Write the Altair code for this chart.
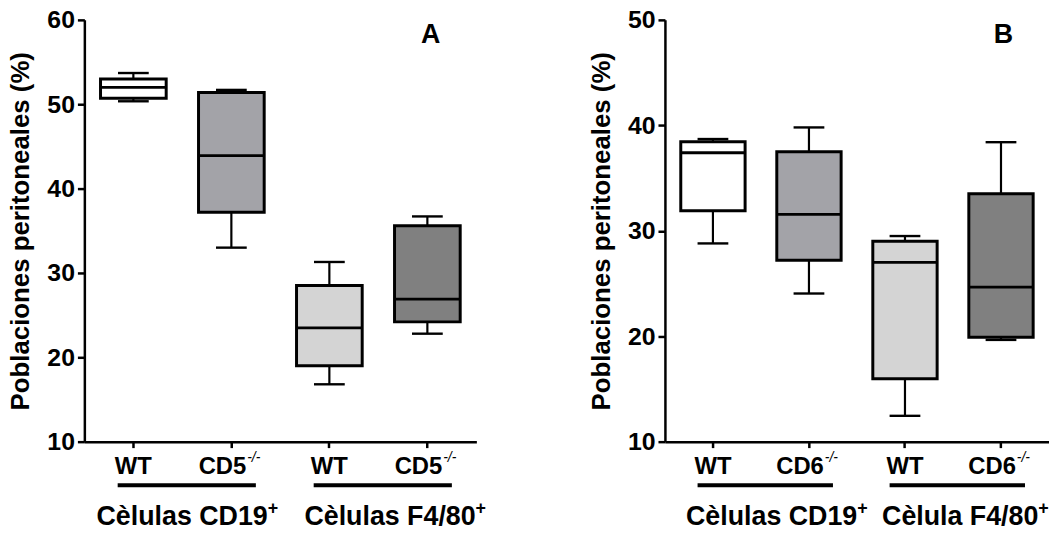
import altair as alt
import pandas as pd

# ---------------- data ----------------
cats = ["CD19_WT", "CD19_KO", "F480_WT", "F480_KO"]
fills = ["#ffffff", "#a3a3a8", "#d4d4d4", "#808080"]

a_min = [50.35, 33.0, 16.8, 22.8]
a_q1 = [50.7, 37.2, 19.0, 24.2]
a_med = [52.0, 43.9, 23.5, 26.9]
a_q3 = [53.0, 51.4, 28.5, 35.6]
a_max = [53.7, 51.7, 31.3, 36.7]

b_min = [28.8, 24.05, 12.45, 19.65]
b_q1 = [31.9, 27.2, 15.96, 19.9]
b_med = [37.4, 31.55, 27.0, 24.65]
b_q3 = [38.45, 37.5, 29.0, 33.5]
b_max = [38.7, 39.8, 29.5, 38.4]

a_ticks = [10, 20, 30, 40, 50, 60]
b_ticks = [10, 20, 30, 40, 50]

geno_a = ["WT", "CD5", "WT", "CD5"]
geno_b = ["WT", "CD6", "WT", "CD6"]
is_ko = [False, True, False, True]
ko_sup = "-/-"

group_a = ["Cèlulas CD19", "Cèlulas F4/80"]
group_b = ["Cèlulas CD19", "Cèlula F4/80"]
group_first = ["CD19_WT", "F480_WT"]
group_last = ["CD19_KO", "F480_KO"]
group_sup = "+"

y_title = "Poblaciones peritoneales (%)"
FONT = "Liberation Sans"
H = 425


def panel(letter, mins, q1s, meds, q3s, maxs, ticks, genos, groups, width, group_dx):
    df = pd.DataFrame({"cat": cats, "min": mins, "q1": q1s, "med": meds,
                       "q3": q3s, "max": maxs, "geno": genos, "ko": is_ko})
    xs = alt.Scale(domain=cats, paddingInner=0, paddingOuter=0)
    ys = alt.Scale(domain=[ticks[0], ticks[-1]], nice=False, zero=False)
    x_axis = alt.Axis(labels=False, title=None, ticks=True, tickSize=6,
                      tickWidth=2.5, tickColor="black", domainColor="black",
                      domainWidth=2.5, grid=False)
    y_axis = alt.Axis(values=ticks, format="d", title=y_title, grid=False,
                      labelFontSize=25, labelFontWeight="bold", labelColor="black",
                      labelFont=FONT, labelPadding=3, tickSize=7, tickWidth=2.5,
                      tickColor="black", domainColor="black", domainWidth=2.5,
                      titleFontSize=26, titleFontWeight="bold", titleFont=FONT,
                      titleColor="black", titlePadding=13)
    X = alt.X("cat:N", scale=xs, axis=x_axis, sort=cats)
    base = alt.Chart(df)

    whisker = base.mark_rule(color="black", strokeWidth=2.2).encode(
        x=X, y=alt.Y("min:Q", scale=ys, axis=y_axis), y2="max:Q")
    box = base.mark_bar(width=alt.RelativeBandSize(0.67), stroke="black",
                        strokeWidth=3).encode(
        x=X, y=alt.Y("q1:Q", scale=ys, axis=y_axis), y2="q3:Q",
        color=alt.Color("cat:N", scale=alt.Scale(domain=cats, range=fills), legend=None))
    median = base.mark_tick(size=66, thickness=2.8, color="black", opacity=1).encode(
        x=X, y=alt.Y("med:Q", scale=ys, axis=y_axis))
    caps = base.transform_fold(["min", "max"], as_=["k", "v"]).mark_tick(
        size=31, thickness=2.4, color="black", opacity=1).encode(
        x=X, y=alt.Y("v:Q", scale=ys, axis=y_axis))

    wt_lab = base.transform_filter("!datum.ko").mark_text(
        font=FONT, fontSize=24, fontWeight="bold", align="center",
        baseline="alphabetic", color="black").encode(
        x=X, y=alt.value(H + 33), text="geno:N")
    ko_lab = base.transform_filter("datum.ko").mark_text(
        font=FONT, fontSize=24, fontWeight="bold", align="right", dx=15,
        baseline="alphabetic", color="black").encode(
        x=X, y=alt.value(H + 33), text="geno:N")
    ko_sup_lab = base.transform_filter("datum.ko").mark_text(
        font=FONT, fontSize=14, align="left", dx=16, fontStyle="italic",
        baseline="alphabetic", color="black", text=ko_sup).encode(
        x=X, y=alt.value(H + 20))

    gdf = pd.DataFrame({"first": group_first, "last": group_last, "name": groups})
    gbase = alt.Chart(gdf)
    underline = gbase.mark_rule(color="black", strokeWidth=4).encode(
        x=alt.X("first:N", scale=xs, axis=x_axis, bandPosition=0.34),
        x2=alt.X2("last:N", bandPosition=0.75),
        y=alt.value(H + 44))

    layers = [whisker, box, median, caps, wt_lab, ko_lab, ko_sup_lab, underline]
    for i, name in enumerate(groups):
        g = gbase.transform_filter(alt.datum.name == name)
        gx = alt.X("first:N", scale=xs, axis=x_axis, bandPosition=1.0)
        layers.append(g.mark_text(font=FONT, fontSize=27, fontWeight="bold",
                                  align="right", dx=group_dx[i], baseline="alphabetic",
                                  color="black").encode(
            x=gx, y=alt.value(H + 84), text="name:N"))
        layers.append(g.mark_text(font=FONT, fontSize=18, fontWeight="bold",
                                  align="left", dx=group_dx[i], baseline="alphabetic",
                                  color="black", text=group_sup).encode(
            x=gx, y=alt.value(H + 73)))

    letter_mark = alt.Chart(pd.DataFrame({"t": [letter]})).mark_text(
        font=FONT, fontSize=27, fontWeight="bold", align="center",
        baseline="middle", color="black").encode(
        x=alt.value(width - 46), y=alt.value(15), text="t:N")
    layers.append(letter_mark)

    return alt.layer(*layers).properties(width=width, height=H)


pa = panel("A", a_min, a_q1, a_med, a_q3, a_max, a_ticks, geno_a, group_a, 395, [86, 98])
pb = panel("B", b_min, b_q1, b_med, b_q3, b_max, b_ticks, geno_b, group_b, 387, [97, 86])

chart = alt.hconcat(pa, pb, spacing=103).resolve_scale(
    x="independent", y="independent", color="independent"
).properties(
    padding={"left": 8, "top": 6, "right": 0, "bottom": 0},
    background="white"
).configure_view(stroke=None)

chart.save("out.html", embed_options={"renderer": "svg", "actions": False})
